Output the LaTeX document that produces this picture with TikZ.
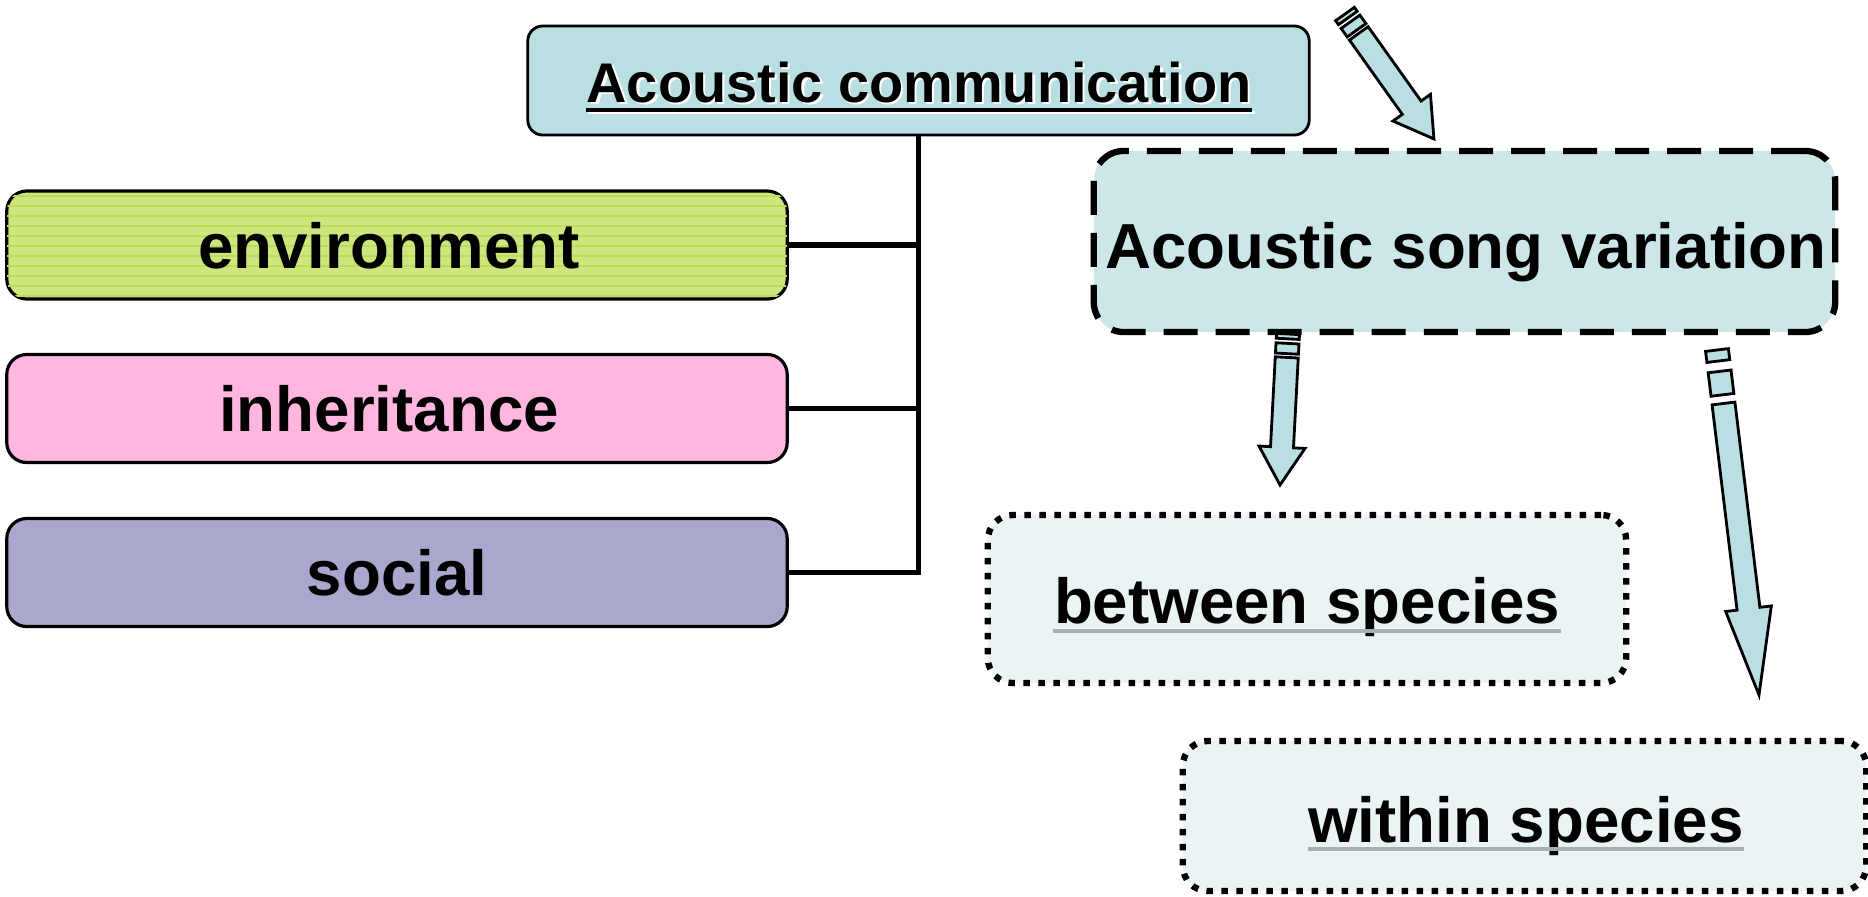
\documentclass[tikz,border=0pt]{standalone}
\usepackage{fontspec}
\setmainfont{Liberation Sans}
\usetikzlibrary{calc}

\definecolor{commblue}{HTML}{B9DFE3}
\definecolor{songblue}{HTML}{CDE7E9}
\definecolor{paleblue}{HTML}{EAF4F5}
\definecolor{envgreen}{HTML}{CDE67E}
\definecolor{envline}{HTML}{BCDC5A}
\definecolor{inhpink}{HTML}{FFB6DF}
\definecolor{socpurple}{HTML}{A8A7CD}
\definecolor{ulgray}{HTML}{A7B0B2}

\tikzset{
  factorbox/.style={draw=black,line width=0.9pt,rounded corners=0.2cm,
    minimum width=7.8cm,minimum height=1.08cm,inner sep=0pt},
  commbox/.style={draw=black,line width=0.8pt,rounded corners=0.15cm,fill=commblue,
    minimum width=7.81cm,minimum height=1.09cm,inner sep=0pt},
  songbox/.style={draw=black,line width=1.8pt,dash pattern=on 0.34cm off 0.18cm,
    rounded corners=0.3cm,fill=songblue,minimum width=7.41cm,minimum height=1.81cm,inner sep=0pt},
  levelbox/.style={draw=black,line width=1.8pt,dash pattern=on 0.065cm off 0.085cm,
    rounded corners=0.25cm,fill=paleblue,inner sep=0pt},
  bigtext/.style={font=\fontsize{18.1}{20}\selectfont\bfseries,inner sep=0pt,anchor=base},
  commtext/.style={font=\fontsize{15.9}{18}\selectfont\bfseries,inner sep=0pt,anchor=base},
  link/.style={line width=1.6pt},
  blockarrow/.style={draw=black,line width=0.8pt,fill=commblue,line join=miter},
}

% striped block arrow from #1 to #2
\newcommand{\stripedarrow}[2]{%
  \path let \p1=($(#2)-(#1)$) in
    \pgfextra{\pgfmathsetmacro{\arrang}{atan2(\y1,\x1)}\xdef\arrang{\arrang}%
              \pgfmathsetmacro{\arrlen}{veclen(\x1,\y1)}\xdef\arrlen{\arrlen}};
  \begin{scope}[shift={(#1)},rotate=\arrang,x=\arrlen pt,y=0.01cm]
    \draw[blockarrow] (0,-11.5) rectangle (0.032,11.5);
    \draw[blockarrow] (0.062,-11.5) rectangle (0.13,11.5);
    \draw[blockarrow] (0.155,-11.5) -- (0.75,-11.5) -- (0.75,-23) -- (1,0)
      -- (0.75,23) -- (0.75,11.5) -- (0.155,11.5) -- cycle;
  \end{scope}}

\begin{document}
\begin{tikzpicture}[x=0.01cm,y=-0.01cm]
  \useasboundingbox (0,0) rectangle (1868,896);

  % top box
  \node[commbox] (comm) at (918.5,80.5) {};
  \node[commtext,white] (commshadow) at (921.5,104.5) {Acoustic communication};
  \draw[white,line width=1.1pt] ($(commshadow.base west)+(0,8)$) -- ($(commshadow.base east)+(0,8)$);
  \node[commtext] (commtxt) at (919,102) {Acoustic communication};
  \draw[line width=1.1pt] ($(commtxt.base west)+(0,8)$) -- ($(commtxt.base east)+(0,8)$);

  % factor boxes
  \node[factorbox,fill=envgreen] (env) at (397,245) {};
  \begin{scope}
    \clip[rounded corners=0.18cm] ($(env.north west)+(2,2)$) rectangle ($(env.south east)+(-2,-2)$);
    \foreach \ly in {196,206,...,296} {
      \draw[envline,line width=0.4pt] (0,\ly) -- (800,\ly);
    }
  \end{scope}
  \node[bigtext] (envtxt) at (389,268) {environment};
  \node[factorbox,fill=inhpink] (inh) at (397,408.5) {};
  \node[bigtext] (inhtxt) at (389,431) {inheritance};
  \node[factorbox,fill=socpurple] (soc) at (397,572.5) {};
  \node[bigtext] (soctxt) at (397,595) {social};

  % bracket lines
  \draw[link] (comm.south) |- (soc.east);
  \draw[link] (env.east) -- (env.east -| comm.south);
  \draw[link] (inh.east) -- (inh.east -| comm.south);

  % right side
  \node[songbox] (song) at (1464.5,241.5) {};
  \node[bigtext] (songtxt) at (1466,268) {Acoustic song variation};

  \node[levelbox,minimum width=6.38cm,minimum height=1.68cm] (btw) at (1307,599) {};
  \node[bigtext] (btwtxt) at (1307,623) {between species};
  \draw[ulgray,line width=1.1pt] ($(btwtxt.base west)+(0,8)$) -- ($(btwtxt.base east)+(0,8)$);

  \node[levelbox,minimum width=6.83cm,minimum height=1.5cm] (wtn) at (1524.5,816) {};
  \node[bigtext] (wtntxt) at (1526,842) {within species};
  \draw[ulgray,line width=1.1pt] ($(wtntxt.base west)+(0,7)$) -- ($(wtntxt.base east)+(0,7)$);

  % arrows
  \coordinate (a1s) at (1345,14);
  \coordinate (a1e) at (1434,139);
  \coordinate (a2s) at (1288,334);
  \coordinate (a2e) at (1280,485);
  \coordinate (a3s) at (1717,350);
  \coordinate (a3e) at (1759,695);
  \stripedarrow{a1s}{a1e}
  \stripedarrow{a2s}{a2e}
  \stripedarrow{a3s}{a3e}
\end{tikzpicture}
\end{document}
